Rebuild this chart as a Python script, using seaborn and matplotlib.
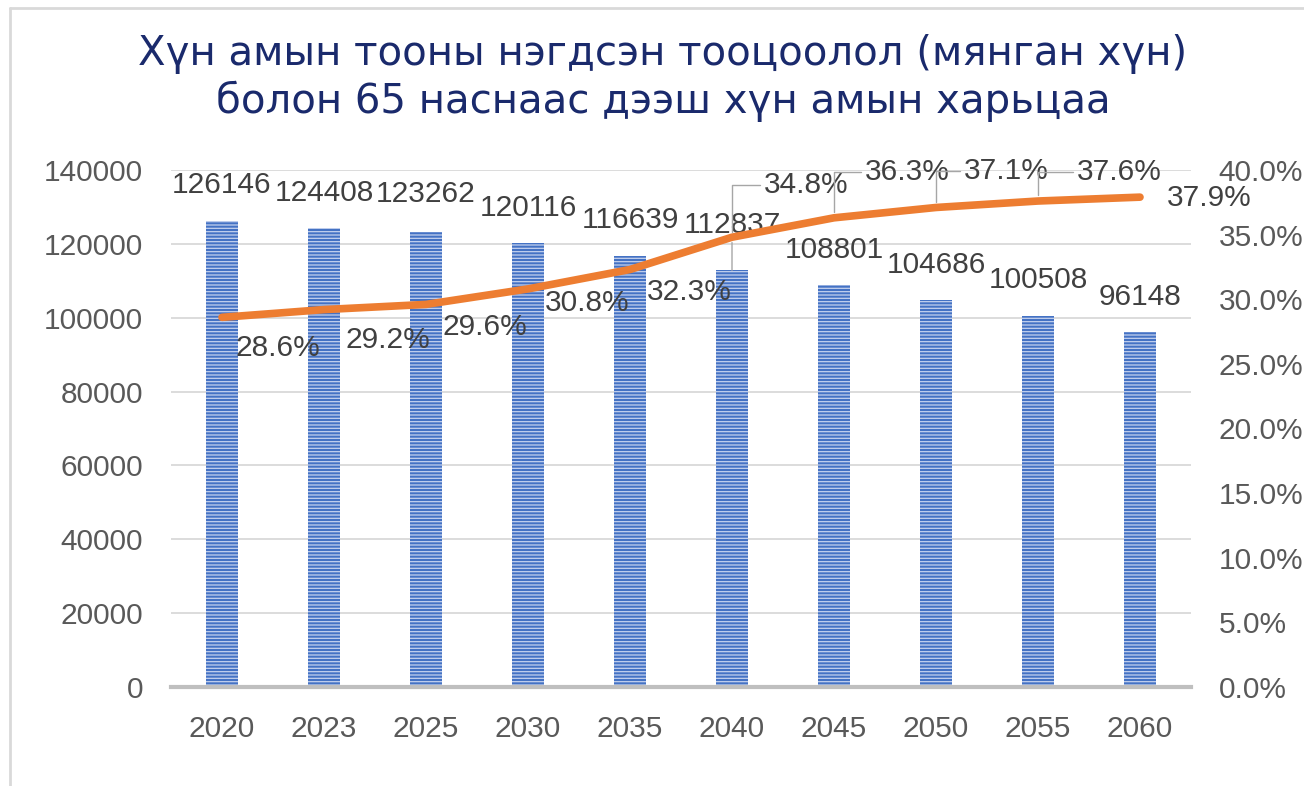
import matplotlib
matplotlib.use('Agg')
import matplotlib.pyplot as plt
import numpy as np
import pandas as pd
import seaborn as sns
from matplotlib.lines import Line2D
from matplotlib.ticker import PercentFormatter, StrMethodFormatter

# --------------------------------------------------------------------
# data

years = ['2020', '2023', '2025', '2030', '2035', '2040', '2045', '2050', '2055', '2060']
population = [126146, 124408, 123262, 120116, 116639, 112837, 108801, 104686, 100508, 96148]
share_65 = [28.6, 29.2, 29.6, 30.8, 32.3, 34.8, 36.3, 37.1, 37.6, 37.9]

title_1 = 'Хүн амын тооны нэгдсэн тооцоолол (мянган хүн)'
title_2 = 'болон 65 наснаас дээш хүн амын харьцаа'

bar_lab_dy = [36, 35, 38, 35, 36, 45, 35, 35, 36, 35]
pct_lab_off = [(56, -31), (64, -30), (59, -23), (59, -14), (59, -22),
               (74, 52), (73, 46), (70, 36), (81, 29), (69, -1)]
leader_idx = [5, 6, 7, 8]

# --------------------------------------------------------------------

sns.set_style('white')
plt.rcParams['font.family'] = ['Liberation Sans', 'DejaVu Sans']
plt.rcParams['hatch.linewidth'] = 0.9

blue = '#4472C4'
orange = '#ED7D31'
txt = '#404040'
tick_col = '#595959'
fs = 21.5

fig = plt.figure(figsize=(13.04, 7.86), dpi=100)
ax = fig.add_axes([171 / 1304, 1 - 687 / 786, (1191 - 171) / 1304, (687 - 170) / 786])

df = pd.DataFrame({'year': years, 'pop': population})
sns.barplot(data=df, x='year', y='pop', color=blue, saturation=1, width=0.32, ax=ax)
for p in ax.patches:
    p.set_hatch('-----')
    p.set_edgecolor('#c3d1ee')
    p.set_linewidth(0)

ax.set_xlim(-0.5, len(years) - 0.5)
ax.set_ylim(0, 140000)
ax.set_yticks(np.arange(0, 140001, 20000))
ax.yaxis.set_major_formatter(StrMethodFormatter('{x:.0f}'))
ax.set_xlabel('')
ax.set_ylabel('')
ax.grid(axis='y', color='#d9d9d9', linewidth=1.3)
ax.set_axisbelow(True)
for s in ['top', 'right', 'left']:
    ax.spines[s].set_visible(False)
ax.spines['bottom'].set_color('#bfbfbf')
ax.spines['bottom'].set_linewidth(3)
ax.tick_params(axis='both', length=0, labelsize=fs, labelcolor=tick_col, pad=20)

for i, v in enumerate(population):
    kw = {}
    if i == 5:
        kw['arrowprops'] = dict(arrowstyle='-', color='#a6a6a6', lw=1,
                                relpos=(0.5, 0.0), shrinkA=0, shrinkB=0)
    ax.annotate(str(v), xy=(i, v), xytext=(0, bar_lab_dy[i]), textcoords='offset pixels',
                ha='center', va='center', fontsize=fs, color=txt, **kw)

# secondary axis with the 65+ share
ax2 = ax.twinx()
x_idx = np.arange(len(years))
share = np.array(share_65) / 100
sns.lineplot(x=x_idx, y=share, ax=ax2, color=orange, linewidth=5.5,
             solid_capstyle='round', solid_joinstyle='round')
ax2.set_ylim(0, 0.4)
ax2.set_yticks(np.arange(0, 0.4001, 0.05))
ax2.yaxis.set_major_formatter(PercentFormatter(xmax=1, decimals=1))
ax2.set_ylabel('')
for s in ax2.spines.values():
    s.set_visible(False)
ax2.tick_params(axis='y', length=0, labelsize=fs, labelcolor=tick_col, pad=20)
ax2.grid(False)

for i, v in enumerate(share_65):
    kw = {}
    if i in leader_idx:
        kw['arrowprops'] = dict(arrowstyle='-', color='#a6a6a6', lw=1,
                                connectionstyle='angle,angleA=0,angleB=90,rad=0',
                                relpos=(0.0, 0.5), shrinkA=0, shrinkB=4)
    ax2.annotate(f'{v:.1f}%', xy=(i, v / 100), xytext=pct_lab_off[i], textcoords='offset pixels',
                 ha='center', va='center', fontsize=fs, color=txt, **kw)

# title
navy = '#1a2a6c'
fig.text(663 / 1304, 1 - 65 / 786, title_1, ha='center', va='baseline',
         fontsize=29, color=navy, family='DejaVu Sans')
fig.text(663 / 1304, 1 - 113 / 786, title_2, ha='center', va='baseline',
         fontsize=29, color=navy, family='DejaVu Sans')

# light frame of the chart area
fig.add_artist(Line2D([10 / 1304, 10 / 1304], [0, 1 - 8 / 786], transform=fig.transFigure,
                      color='#d9d9d9', lw=2))
fig.add_artist(Line2D([10 / 1304, 1], [1 - 8 / 786, 1 - 8 / 786], transform=fig.transFigure,
                      color='#d9d9d9', lw=2))

fig.savefig('out.png', dpi=100)
